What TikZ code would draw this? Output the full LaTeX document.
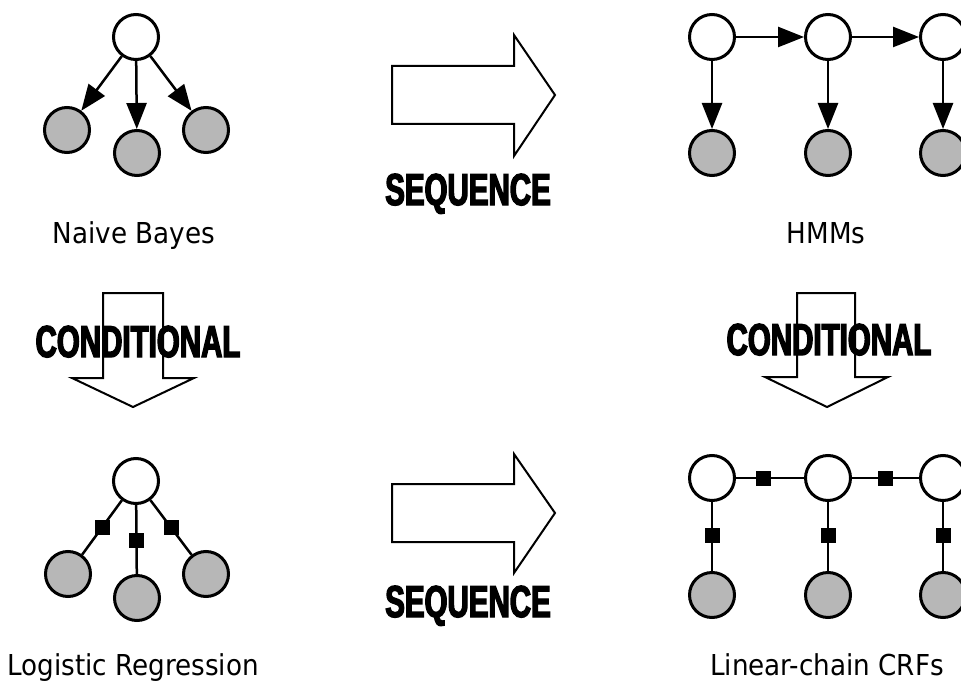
\documentclass[tikz,border=0pt]{standalone}
\usepackage{fontspec}
\usetikzlibrary{arrows.meta}
\newfontfamily\lblfont[FakeStretch=0.91]{DejaVu Sans}
\newfontfamily\bigfont[FakeStretch=0.66,FakeBold=3]{Liberation Sans Bold}
\begin{document}
\begin{tikzpicture}[x=1pt,y=-1pt,
  hid/.style={circle,draw,line width=3pt,fill=white,minimum size=45pt,inner sep=0pt},
  obs/.style={hid,fill=obsgray},
  edge/.style={line width=2.5pt},
  arr/.style={edge,-{Triangle[length=26pt,width=20pt]}},
  factor/.style={rectangle,fill=black,minimum size=15pt,inner sep=0pt},
  lbl/.style={font=\lblfont\fontsize{28.8}{30}\selectfont,anchor=base},
  big/.style={font=\bigfont\fontsize{44.7}{46}\selectfont,anchor=base},
  bigarrow/.style={draw,line width=2pt,line join=miter}]
\definecolor{obsgray}{RGB}{183,183,183}
\useasboundingbox (0,0) rectangle (961,682);
\clip (0,0) rectangle (961,682);

% Naive Bayes
\node[hid] (nb) at (136,37) {};
\node[obs] (nb1) at (67,130) {};
\node[obs] (nb2) at (137,153) {};
\node[obs] (nb3) at (206,130) {};
\draw[arr] (nb) -- (nb1);
\draw[arr] (nb) -- (nb2);
\draw[arr] (nb) -- (nb3);
\node[lbl] (nbl) at (134,243) {Naive Bayes};

% HMMs
\node[hid] (h1) at (712,37) {};
\node[hid] (h2) at (828,37) {};
\node[hid] (h3) at (943,37) {};
\node[obs] (o1) at (712,153) {};
\node[obs] (o2) at (828,153) {};
\node[obs] (o3) at (943,153) {};
\draw[arr] (h1) -- (h2);
\draw[arr] (h2) -- (h3);
\draw[arr] (h1) -- (o1);
\draw[arr] (h2) -- (o2);
\draw[arr] (h3) -- (o3);
\node[lbl] (hml) at (826,243) {HMMs};

% Logistic Regression
\node[hid] (lr) at (136,481) {};
\node[obs] (lr1) at (68,574) {};
\node[obs] (lr2) at (137,598) {};
\node[obs] (lr3) at (206,574) {};
\draw[edge] (lr) -- node[factor] {} (lr1);
\draw[edge] (lr) -- node[factor,pos=0.52] {} (lr2);
\draw[edge] (lr) -- node[factor] {} (lr3);
\node[lbl] (lrl) at (133,675) {Logistic Regression};

% Linear-chain CRFs
\node[hid] (c1) at (712,478) {};
\node[hid] (c2) at (828,478) {};
\node[hid] (c3) at (943,478) {};
\node[obs] (d1) at (712,595) {};
\node[obs] (d2) at (828,595) {};
\node[obs] (d3) at (943,595) {};
\draw[edge] (c1) -- node[factor,pos=0.41] {} (c2);
\draw[edge] (c2) -- node[factor,pos=0.5] {} (c3);
\draw[edge] (c1) -- node[factor,pos=0.48] {} (d1);
\draw[edge] (c2) -- node[factor,pos=0.48] {} (d2);
\draw[edge] (c3) -- node[factor,pos=0.48] {} (d3);
\node[lbl] (crl) at (827,675) {Linear-chain CRFs};

% Sequence arrows
\draw[bigarrow] (392,66) -- (514,66) -- (514,35) -- (555,95) -- (514,156) -- (514,124) -- (392,124) -- cycle;
\node[big] (seq1) at (468,205) {SEQUENCE};
\draw[bigarrow] (392,484) -- (514,484) -- (514,454) -- (555,513) -- (514,573) -- (514,542) -- (392,542) -- cycle;
\node[big] (seq2) at (468,617) {SEQUENCE};

% Conditional arrows
\draw[bigarrow] (103,293) -- (163,293) -- (163,378) -- (194,378) -- (133,407) -- (72,378) -- (103,378) -- cycle;
\node[big] (cond1) at (138,357) {CONDITIONAL};
\draw[bigarrow] (797,293) -- (855,293) -- (855,377) -- (888,377) -- (827,407) -- (765,377) -- (797,377) -- cycle;
\node[big] (cond2) at (829,355) {CONDITIONAL};
\end{tikzpicture}
\end{document}
